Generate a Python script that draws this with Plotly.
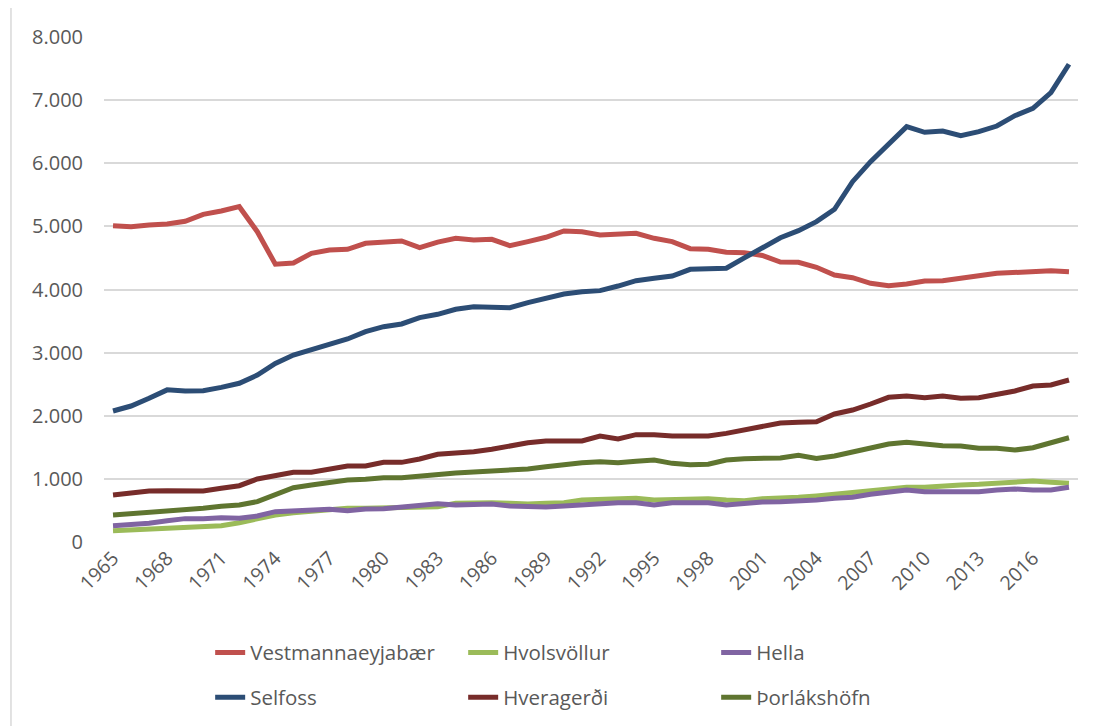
import plotly.graph_objects as go

years = list(range(1965, 2019))

vestmannaeyjabaer = [5010, 4995, 5020, 5038, 5080, 5191, 5244, 5312, 4916, 4400,
                     4420, 4573, 4626, 4637, 4732, 4742, 4768, 4662, 4750, 4811,
                     4784, 4795, 4694, 4758, 4827, 4927, 4916, 4863, 4879, 4890,
                     4811, 4758, 4647, 4637, 4589, 4584, 4540, 4435, 4431, 4352,
                     4230, 4187, 4098, 4061, 4087, 4135, 4140, 4187, 4219, 4256,
                     4267, 4283, 4298, 4283]
hvolsvollur = [180, 190, 201, 217, 238, 238, 259, 306, 375, 428,
               465, 486, 517, 533, 533, 539, 549, 549, 560, 613,
               623, 623, 613, 602, 613, 623, 665, 676, 692, 692,
               665, 676, 692, 686, 665, 655, 687, 692, 708, 729,
               755, 781, 808, 850, 866, 866, 892, 903, 913, 929,
               956, 966, 945, 929]
hella = [259, 269, 296, 338, 370, 370, 385, 375, 412, 481,
         496, 502, 517, 496, 523, 528, 549, 581, 605, 586,
         602, 602, 570, 560, 554, 570, 591, 613, 623, 623,
         586, 623, 623, 623, 586, 613, 633, 639, 649, 665,
         692, 708, 755, 781, 824, 797, 797, 781, 797, 824,
         840, 824, 824, 866]
selfoss = [2075, 2154, 2276, 2410, 2392, 2397, 2450, 2514, 2645, 2830,
           2962, 3042, 3131, 3216, 3332, 3411, 3454, 3554, 3607, 3686,
           3728, 3728, 3712, 3791, 3861, 3929, 3966, 3982, 4055, 4140,
           4177, 4214, 4320, 4320, 4336, 4500, 4660, 4820, 4932, 5075,
           5271, 5708, 6025, 6316, 6580, 6490, 6511, 6437, 6500, 6590,
           6754, 6870, 7118, 7568]
hveragerdi = [745, 771, 808, 813, 808, 808, 850, 892, 998, 1050,
              1104, 1104, 1156, 1204, 1204, 1262, 1262, 1315, 1390, 1405,
              1431, 1468, 1521, 1573, 1600, 1600, 1600, 1679, 1632, 1700,
              1700, 1679, 1679, 1679, 1721, 1774, 1827, 1885, 1896, 1906,
              2028, 2091, 2186, 2292, 2313, 2286, 2313, 2276, 2286, 2340,
              2392, 2471, 2487, 2566]
thorlakshofn = [428, 449, 465, 481, 496, 533, 565, 586, 639, 760,
                860, 903, 940, 982, 993, 1019, 1019, 1050, 1077, 1093,
                1109, 1120, 1130, 1156, 1193, 1231, 1257, 1273, 1257, 1278,
                1299, 1246, 1225, 1231, 1299, 1320, 1320, 1330, 1373, 1325,
                1362, 1421, 1484, 1552, 1579, 1552, 1526, 1521, 1484, 1484,
                1457, 1494, 1573, 1652]

x_ticks = list(range(1965, 2017, 3))
y_ticks = list(range(0, 8001, 1000))

series = [
    ("Vestmannaeyjabær", vestmannaeyjabaer, "#C0504D", "legend"),
    ("Hvolsvöllur", hvolsvollur, "#9BBB59", "legend"),
    ("Hella", hella, "#8064A2", "legend"),
    ("Selfoss", selfoss, "#2C4D75", "legend2"),
    ("Hveragerði", hveragerdi, "#772C2A", "legend2"),
    ("Þorlákshöfn", thorlakshofn, "#5F7530", "legend2"),
]

FONT = "Open Sans, Liberation Sans, sans-serif"
GREY = "#595959"

fig = go.Figure()
for name, vals, color, lg in series:
    fig.add_trace(go.Scatter(
        x=years, y=vals, name=name, mode="lines",
        line=dict(color=color, width=5, shape="linear"),
        legend=lg,
    ))

legend_common = dict(
    orientation="h", xanchor="left", yanchor="middle",
    entrywidth=208, entrywidthmode="pixels",
    font=dict(family=FONT, size=20.5, color=GREY),
    bgcolor="rgba(0,0,0,0)", itemclick=False, itemdoubleclick=False,
)

fig.update_layout(
    width=1108, height=726,
    margin=dict(l=96, r=38, t=29, b=192, autoexpand=False),
    paper_bgcolor="white", plot_bgcolor="white",
    separators=",.",
    font=dict(family=FONT, color=GREY),
    showlegend=True,
    legend=dict(x=0.109, y=-0.219, **legend_common),
    legend2=dict(x=0.109, y=-0.308, **legend_common),
    xaxis=dict(
        range=[1964.5, 2018.5], tickmode="array", tickvals=x_ticks,
        ticktext=[str(v) for v in x_ticks], tickangle=-45,
        showgrid=False, zeroline=False, showline=False, ticks="",
        tickfont=dict(family=FONT, size=19.5, color=GREY),
    ),
    yaxis=dict(
        range=[0, 8000], tickmode="array", tickvals=y_ticks,
        tickformat=",.0f", showgrid=True, gridcolor="#D9D9D9", gridwidth=1.5,
        zeroline=False, showline=False, ticks="", ticklabelstandoff=20,
        tickfont=dict(family=FONT, size=20, color=GREY),
    ),
    shapes=[dict(type="line", xref="paper", yref="paper",
                 x0=-0.0955, x1=-0.0955, y0=-0.4, y1=1.1,
                 line=dict(color="#D9D9D9", width=1.5))],
)

fig.write_html("out.html")
